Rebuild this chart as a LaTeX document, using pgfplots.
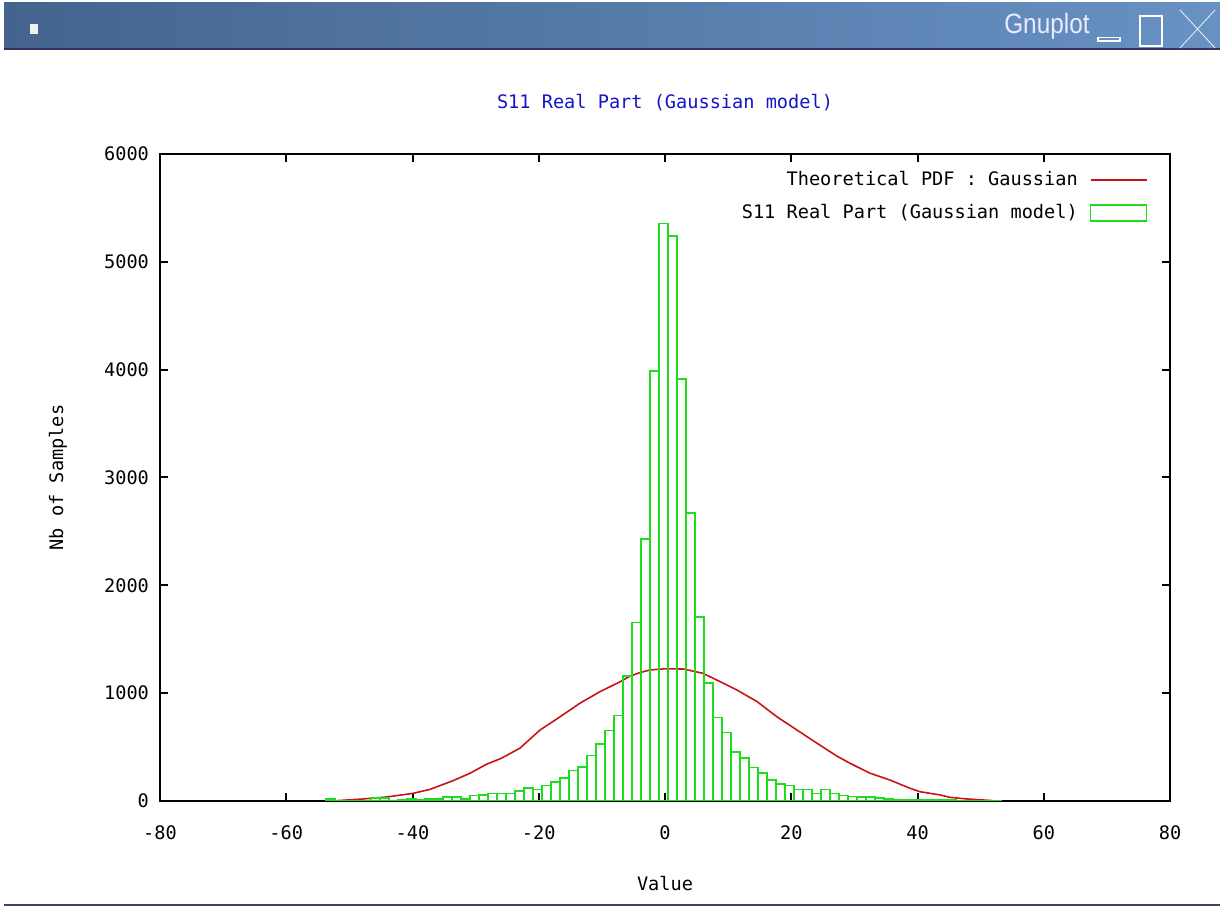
\documentclass[border=0pt]{standalone}
\usepackage{pgfplots}
\pgfplotsset{compat=1.18}
\usepackage{fontspec}
\setmainfont{DejaVu Sans Mono}
\newfontfamily\wmfont{Liberation Sans}
\definecolor{histgreen}{RGB}{30,220,30}
\definecolor{pdfred}{RGB}{200,20,20}
\definecolor{titleblue}{RGB}{20,20,200}
\definecolor{barleft}{RGB}{68,100,142}
\definecolor{barright}{RGB}{104,146,196}

\pgfplotstableread{
x y
-52.97 18
-51.54 4
-50.115 3
-48.69 3
-47.265 4
-45.84 30
-44.415 28
-42.99 6
-41.565 8
-40.14 20
-38.715 15
-37.29 16
-35.865 16
-34.44 38
-33.015 38
-31.59 18
-30.165 50
-28.74 55
-27.315 68
-25.89 71
-24.465 71
-23.04 90
-21.615 120
-20.19 105
-18.765 143
-17.34 176
-15.915 213
-14.49 281
-13.065 318
-11.64 422
-10.215 529
-8.79 655
-7.365 793
-5.94 1159
-4.515 1654
-3.09 2427
-1.665 3988
-0.24 5357
1.185 5240
2.61 3914
4.035 2668
5.46 1709
6.885 1097
8.31 776
9.735 634
11.16 457
12.585 396
14.01 312
15.435 257
16.86 195
18.285 158
19.71 145
21.135 108
22.56 108
23.985 71
25.41 108
26.835 71
28.26 52
29.685 40
31.11 38
32.535 35
33.96 30
35.385 18
36.81 15
38.235 14
39.66 15
41.085 12
42.51 10
43.935 8
45.36 7
46.785 6
48.21 5
49.635 4
51.06 4
52.485 6
}\histdata

\pgfplotstableread{
x y
-52 3
-48 18
-44 38
-40 70
-37.2 108
-33.6 188
-30.9 257
-28.2 343
-26.0 394
-23.0 489
-19.8 658
-16.6 782
-13.5 906
-10.3 1014
-7.1 1106
-5.5 1159
-4.0 1190
-2.4 1215
0.0 1226
2.9 1224
6.0 1184
8.2 1122
11.4 1029
14.6 921
17.7 782
20.9 658
24.1 535
27.2 417
29.3 350
32.5 257
35.6 195
38.8 118
40.4 86
43.6 56
45.1 34
47.8 19
52.0 3
}\pdfdata

\begin{document}
\begin{tikzpicture}
\useasboundingbox (0pt,0pt) rectangle (610pt,454pt);
% window title bar
\shade[left color=barleft, right color=barright] (2pt,429.5pt) rectangle (610pt,452.5pt);
\draw[line width=1pt, black!70!blue!60!gray] (2pt,429.3pt) -- (610pt,429.3pt);
\fill[white!88!gray] (15pt,437pt) rectangle (19pt,442pt);
\node[anchor=east, text=white!92!blue, inner sep=0pt] at (545pt,441pt)
  {\scalebox{0.87}[1]{\wmfont\fontsize{14}{16}\selectfont Gnuplot}};
\draw[white, line width=0.6pt] (549pt,433.5pt) rectangle (560pt,435.2pt);
\draw[white, line width=0.6pt] (570pt,431pt) rectangle (581pt,446pt);
\draw[white!90!gray, line width=0.4pt] (590pt,449pt) -- (607.5pt,430pt);
\draw[white!90!gray, line width=0.4pt] (590pt,430pt) -- (607.5pt,449pt);
% bottom frame line
\draw[line width=1.2pt, black!65!blue!50!gray] (2pt,1.5pt) -- (610pt,1.5pt);

\begin{axis}[
  at={(80pt,53.5pt)}, anchor=south west,
  width=505pt, height=323.5pt, scale only axis,
  xmin=-80, xmax=80, ymin=0, ymax=6000,
  xtick={-80,-60,...,80}, ytick={0,1000,...,6000},
  scaled y ticks=false,
  /pgf/number format/1000 sep={},
  /pgf/number format/assume math mode=true,
  font=\fontsize{9.3}{11}\selectfont,
  tick label style={font=\fontsize{9.3}{11}\selectfont},
  tick align=inside,
  major tick length=4pt,
  major tick style={line width=1pt, black},
  axis line style={line width=1.3pt},
  xticklabel style={yshift=-9pt},
  yticklabel style={xshift=-2pt},
  title={S11 Real Part (Gaussian model)},
  title style={at={(0.5,1)}, anchor=center, yshift=19.5pt, text=titleblue, font=\fontsize{9.3}{11}\selectfont},
  xlabel={Value},
  ylabel={Nb of Samples},
  x label style={at={(axis description cs:0.5,-0.128)}, anchor=center},
  y label style={at={(axis description cs:-0.101,0.5)}, anchor=center},
  legend plot pos=right,
  legend cell align=right,
  legend style={at={(rel axis cs:0.978,0.98)}, anchor=north east, draw=none, fill=none,
    inner sep=0pt, row sep=4pt, font=\fontsize{9.3}{11}\selectfont,
    /tikz/every odd column/.append style={column sep=4pt}},
]
\addplot[pdfred, line width=0.8pt, no marks,
  legend image code/.code={\draw[pdfred, line width=0.8pt] (0pt,0pt) -- (28pt,0pt);}]
  table[x=x, y=y] {\pdfdata};
\addlegendentry{Theoretical PDF : Gaussian}
\addplot[ybar, bar width=1.425, bar shift=0pt, draw=histgreen, fill=none, line width=0.8pt,
  legend image code/.code={\draw[histgreen, line width=0.8pt] (0pt,-4pt) rectangle (28pt,4pt);}]
  table[x=x, y=y] {\histdata};
\addlegendentry{S11 Real Part (Gaussian model)}
\end{axis}
\end{tikzpicture}
\end{document}
